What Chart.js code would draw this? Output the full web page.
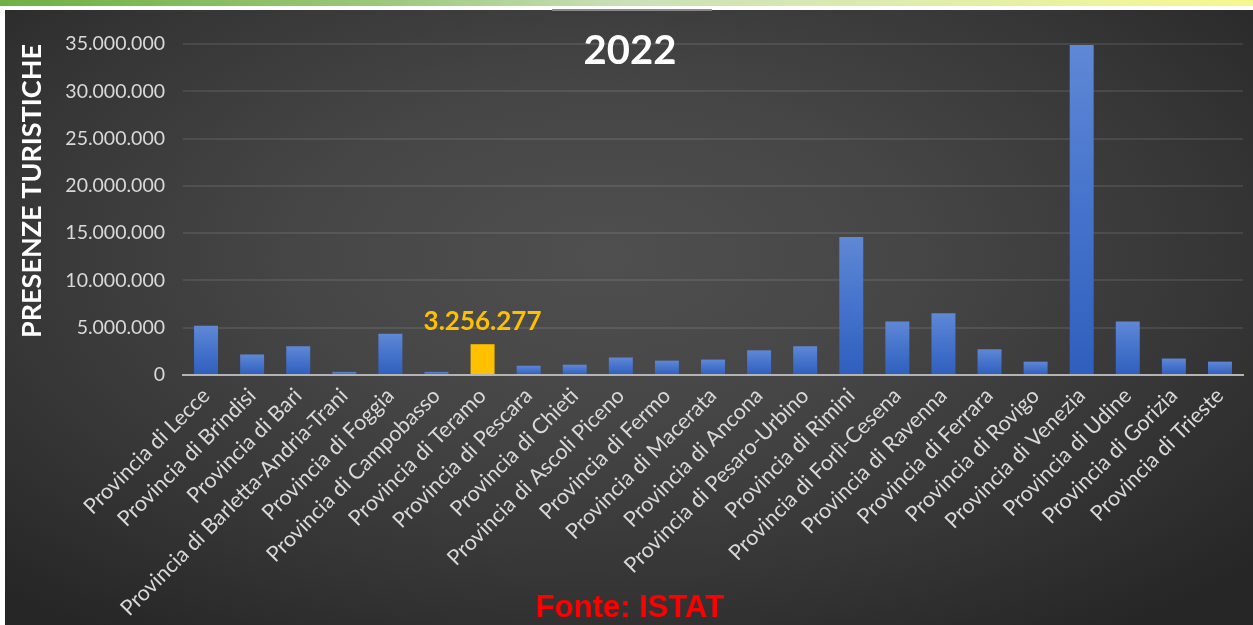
<!DOCTYPE html>
<html>
<head>
<meta charset="utf-8">
<script src="https://cdn.jsdelivr.net/npm/chart.js@4.4.1/dist/chart.umd.min.js"></script>
<style>
  html, body { margin: 0; padding: 0; background: #ffffff; }
  #wrap { position: relative; width: 1253px; height: 625px; overflow: hidden; background: #ffffff; }
  #strip { position: absolute; left: 0; top: 0; width: 1253px; height: 6px;
    background: linear-gradient(90deg, #6fb043 0%, #9cc77a 30%, #c9e0b8 50%, #dcebb0 70%, #eef59a 90%, #f6f88e 100%); }
  #panel { position: absolute; left: 5px; top: 10px; width: 1248px; height: 615px;
    background: radial-gradient(ellipse 70% 75% at 48% 40%, #4f4f4f 0%, #464646 35%, #363636 70%, #262626 100%); }
  #topline { position: absolute; left: 552px; top: 9px; width: 160px; height: 2px; background: #8a8a8a; }
  canvas { position: absolute; left: 0; top: 0; }
</style>
</head>
<body>
<div id="wrap">
  <div id="strip"></div>
  <div id="panel"></div>
  <div id="topline"></div>
  <canvas id="c" width="1253" height="625"></canvas>
</div>
<script>
const categories = [
  "Provincia di Lecce", "Provincia di Brindisi", "Provincia di Bari",
  "Provincia di Barletta-Andria-Trani", "Provincia di Foggia", "Provincia di Campobasso",
  "Provincia di Teramo", "Provincia di Pescara", "Provincia di Chieti",
  "Provincia di Ascoli Piceno", "Provincia di Fermo", "Provincia di Macerata",
  "Provincia di Ancona", "Provincia di Pesaro-Urbino", "Provincia di Rimini",
  "Provincia di Forlì-Cesena", "Provincia di Ravenna", "Provincia di Ferrara",
  "Provincia di Rovigo", "Provincia di Venezia", "Provincia di Udine",
  "Provincia di Gorizia", "Provincia di Trieste"
];
const presenze2022 = [
  5200000, 2170000, 3040000, 330000, 4350000, 330000,
  3256277, 980000, 1090000, 1850000, 1520000, 1630000,
  2610000, 3040000, 14600000, 5650000, 6520000, 2720000,
  1410000, 34900000, 5650000, 1740000, 1410000
];
const highlightIndex = 6;
const chartTitle = "2022";
const yAxisTitle = "PRESENZE TURISTICHE";
const sourceText = "Fonte: ISTAT";
const yTicks = [0, 5000000, 10000000, 15000000, 20000000, 25000000, 30000000, 35000000];

function fmtIt(v) {
  return String(Math.round(v)).replace(/\B(?=(\d{3})+(?!\d))/g, ".");
}

Chart.defaults.font.family = "Lato, 'Open Sans', sans-serif";

const overlayPlugin = {
  id: 'overlay',
  afterDatasetsDraw(chart) {
    const ctx = chart.ctx;
    const meta = chart.getDatasetMeta(0);
    const el = meta.data[highlightIndex];
    ctx.save();
    ctx.fillStyle = '#FFC000';
    ctx.font = "bold 26px Lato, 'Open Sans', sans-serif";
    ctx.textAlign = 'center';
    ctx.textBaseline = 'middle';
    ctx.fillText(fmtIt(presenze2022[highlightIndex]), el.x, el.y - 23);
    ctx.restore();
  },
  afterDraw(chart) {
    const ctx = chart.ctx;
    ctx.save();
    ctx.fillStyle = '#ffffff';
    ctx.font = "bold 40px Lato, 'Open Sans', sans-serif";
    ctx.textAlign = 'center';
    ctx.textBaseline = 'middle';
    ctx.fillText(chartTitle, 630, 51);
    ctx.fillStyle = '#ff0000';
    ctx.font = "bold 31px 'Liberation Sans', Arial, sans-serif";
    ctx.fillText(sourceText, 630, 608);
    ctx.restore();
  }
};

const ctx = document.getElementById('c').getContext('2d');
new Chart(ctx, {
  type: 'bar',
  data: {
    labels: categories,
    datasets: [{
      data: presenze2022,
      backgroundColor(c) {
        if (c.dataIndex === highlightIndex) return '#FFC000';
        const chart = c.chart;
        const ys = chart.scales.y;
        if (!chart.chartArea || !ys || c.raw == null) return '#3f6fcf';
        const top = ys.getPixelForValue(c.raw);
        const base = ys.getPixelForValue(0);
        if (!isFinite(top) || !isFinite(base) || base - top < 1) return '#3f6fcf';
        const g = chart.ctx.createLinearGradient(0, top, 0, base);
        g.addColorStop(0, '#5f88d5');
        g.addColorStop(0.5, '#4573cc');
        g.addColorStop(1, '#2f5fbd');
        return g;
      },
      borderWidth: 0,
      barPercentage: 0.52,
      categoryPercentage: 1.0
    }]
  },
  options: {
    responsive: false,
    animation: false,
    layout: { padding: { left: 5, top: 44, right: 10, bottom: 0 } },
    plugins: { legend: { display: false }, tooltip: { enabled: false }, title: { display: false } },
    scales: {
      x: {
        grid: { display: false, drawTicks: false },
        border: { display: true, color: '#b4b4b4', width: 2 },
        ticks: {
          color: '#d9d9d9',
          font: { size: 21.5 },
          minRotation: 45, maxRotation: 45,
          autoSkip: false,
          padding: 8
        },
        afterFit(scale) { scale.height = 250; }
      },
      y: {
        min: 0, max: 35000000,
        afterBuildTicks(scale) { scale.ticks = yTicks.map(v => ({ value: v })); },
        grid: { color: 'rgba(255,255,255,0.09)', lineWidth: 2, drawTicks: false },
        border: { display: false },
        ticks: {
          color: '#d9d9d9',
          font: { size: 19.5 },
          padding: 18,
          callback: (v) => fmtIt(v)
        },
        title: {
          display: true,
          text: yAxisTitle,
          color: '#ffffff',
          font: { size: 27, weight: 'bold' },
          align: 'end',
          padding: { top: 11, bottom: 0 }
        },
        afterFit(scale) { scale.width = 178; }
      }
    }
  },
  plugins: [overlayPlugin]
});
</script>
</body>
</html>
